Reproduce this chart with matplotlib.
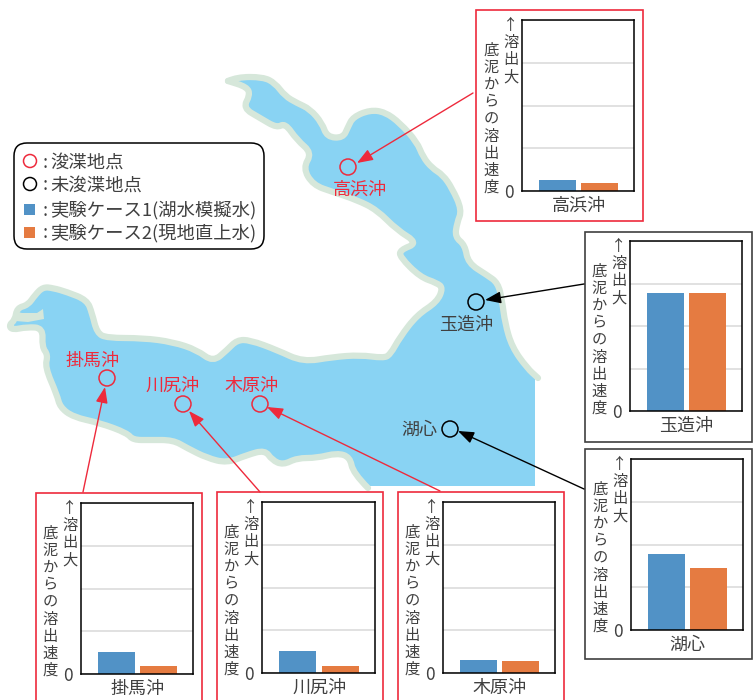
import matplotlib
matplotlib.use('Agg')
import matplotlib.pyplot as plt
from matplotlib.patches import Polygon, Rectangle, Circle, FancyBboxPatch, PathPatch
from matplotlib.path import Path

plt.rcParams['font.family'] = ['Noto Sans CJK JP', 'DejaVu Sans']

W, H = 753, 700

# sites and the two experiment cases (relative units, axis runs 0-4)
sites = ['高浜沖', '玉造沖', '湖心', '掛馬沖', '川尻沖', '木原沖']
case1 = [0.26, 2.77, 1.77, 0.51, 0.52, 0.31]
case2 = [0.19, 2.77, 1.45, 0.19, 0.17, 0.27]
dredged = [True, False, False, True, True, True]

# panel layout in pixels: box left, box top, box right, box bottom, axes left, axes top, axes right, axes bottom
panels = [
    (476, 10, 643, 221, 522, 20, 634, 191),
    (585, 232, 752, 442, 630, 241, 742, 411),
    (585, 449, 752, 659, 631, 459, 743, 630),
    (36, 493, 202, 706, 81, 503, 193, 674),
    (217, 492, 383, 706, 262, 502, 375, 673),
    (398, 492, 564, 706, 443, 502, 555, 673),
]

# site markers, labels, arrow start and tip
site_xy = [(348, 167), (476, 302), (450, 429), (107, 378), (183, 404), (260, 404)]
label_xy = [(360, 190), (466, 325), (419, 430), (93, 361), (173, 386), (252, 386)]
arrow_from = [(473, 93), (584, 284), (584, 489), (83, 492), (260, 492), (440, 491)]
arrow_tip = [(357, 163), (485, 300), (458, 431), (105, 387), (189, 411), (267, 407)]

# lake shore, pixels
shore_east = [(228, 81), (237, 77), (263, 77), (275, 83), (285, 96), (297, 103), (310, 109), (322, 123),
              (327, 137), (343, 138), (348, 127), (353, 117), (370, 110), (385, 112), (400, 123), (417, 142),
              (423, 157), (432, 168), (443, 175), (452, 188), (462, 210), (457, 223), (455, 237), (465, 245),
              (468, 263), (487, 275), (498, 283), (502, 300), (505, 323), (512, 347), (527, 368), (538, 378)]
cut_edge = [(535, 378), (535, 486), (368, 486)]
shore_west = [(368, 488), (353, 473), (350, 457), (337, 453), (317, 458), (297, 458), (283, 465), (272, 460),
              (265, 450), (247, 455), (227, 463), (207, 458), (187, 448), (173, 440), (150, 440), (133, 440),
              (127, 433), (100, 423), (73, 417), (60, 407), (57, 395), (45, 367), (48, 355), (42, 347),
              (43, 328), (27, 327), (12, 330), (9, 325), (15, 320), (17, 308), (28, 305), (35, 295),
              (43, 287), (53, 288), (67, 292), (87, 300), (92, 313), (97, 333), (107, 338), (143, 338),
              (173, 342), (197, 350), (213, 362), (227, 350), (237, 340), (250, 340), (277, 350), (303, 362),
              (333, 357), (360, 355), (383, 358), (390, 355), (400, 337), (417, 315), (437, 302), (443, 288),
              (437, 283), (420, 277), (400, 257), (400, 250), (418, 243), (397, 230), (377, 210), (357, 200),
              (333, 192), (313, 185), (303, 168), (312, 153), (297, 140), (285, 123), (277, 128), (260, 118),
              (243, 108), (250, 95), (247, 87), (228, 81)]
# land spit in the western inlet
spit = [(15, 321), (14, 311), (22, 313), (37, 313), (43, 309), (44, 319), (28, 322)]

legend_labels = ['浚渫地点', '未浚渫地点', '実験ケース1(湖水模擬水)', '実験ケース2(現地直上水)']
legend_y = [162.5, 185.5, 210.5, 233.5]
legend_mark_y = [161, 184, 209, 232]

RED = '#EE2A3C'
BLUE = '#5192C6'
ORANGE = '#E57B41'
GREY = '#404040'
LAKE = '#89D3F3'
SHORE = '#D6E7DA'


def rounded(points):
    # traced points become the control points of quadratic curves, so the shore has no corners
    verts = [points[0]]
    codes = [Path.MOVETO]
    for a, b in zip(points[1:-1], points[2:]):
        verts += [a, ((a[0] + b[0]) / 2, (a[1] + b[1]) / 2)]
        codes += [Path.CURVE3, Path.CURVE3]
    verts.append(points[-1])
    codes.append(Path.LINETO)
    return verts, codes


fig = plt.figure(figsize=(W / 100, H / 100), dpi=100)
ax = fig.add_axes([0, 0, 1, 1])
ax.set_xlim(0, W)
ax.set_ylim(H, 0)
ax.axis('off')

# lake
ve, ce = rounded(shore_east)
vw, cw = rounded(shore_west)
fill_verts = ve + cut_edge + vw[1:] + [vw[-1]]
fill_codes = ce + [Path.LINETO] * 3 + cw[1:] + [Path.CLOSEPOLY]
ax.add_patch(PathPatch(Path(fill_verts, fill_codes), fc=LAKE, ec='none', zorder=1))
for v, c in [(ve, ce), (vw, cw)]:
    ax.add_patch(PathPatch(Path(v, c), fc='none', ec=SHORE, lw=4.5, joinstyle='round', capstyle='round', zorder=2))
ax.add_patch(Polygon(spit, closed=True, fc=SHORE, ec='none', zorder=2))

# sites
for i, s in enumerate(sites):
    c = RED if dredged[i] else 'black'
    tc = RED if dredged[i] else GREY
    ax.add_patch(Circle(site_xy[i], 8, fc='none', ec=c, lw=1.1, zorder=4))
    ax.text(label_xy[i][0], label_xy[i][1], s, color=tc, fontsize=13, ha='center', va='center', zorder=4)
    ax.annotate('', xy=arrow_tip[i], xytext=arrow_from[i], zorder=5,
                arrowprops=dict(arrowstyle='-|>,head_length=0.8,head_width=0.3', color=c, lw=1,
                                shrinkA=0, shrinkB=0, mutation_scale=12))

# legend
ax.add_patch(FancyBboxPatch((26, 155), 226, 82, boxstyle='round,pad=12,rounding_size=13',
                            fc='white', ec='black', lw=1.1, zorder=3))
ax.add_patch(Circle((30, legend_mark_y[0]), 6.5, fc='none', ec=RED, lw=1.1, zorder=4))
ax.add_patch(Circle((30, legend_mark_y[1]), 6.5, fc='none', ec='black', lw=1.1, zorder=4))
ax.add_patch(Rectangle((24.5, legend_mark_y[2] - 5.5), 11, 11, fc=BLUE, ec='none', zorder=4))
ax.add_patch(Rectangle((24.5, legend_mark_y[3] - 5.5), 11, 11, fc=ORANGE, ec='none', zorder=4))
for lab, y in zip(legend_labels, legend_y):
    ax.text(43, y, ':', color=GREY, fontsize=13.2, va='center', zorder=4)
    ax.text(50, y, lab, color=GREY, fontsize=13.2, va='center', zorder=4)

# bar panels
for i, s in enumerate(sites):
    bl, bt, br, bb, al, at, ar, ab = panels[i]
    ax.add_patch(Rectangle((bl, bt), br - bl, bb - bt, fc='white', ec=RED if dredged[i] else GREY,
                           lw=1.2, zorder=3))
    ax.text(al - 31, at + 22, '\n'.join('底泥からの溶出速度'), color=GREY, fontsize=11,
            ha='center', va='top', linespacing=1.01, zorder=4)
    ax.text(al - 11, at - 3, '\n'.join('↑溶出大'), color=GREY, fontsize=11,
            ha='center', va='top', linespacing=1.01, zorder=4)
    sub = fig.add_axes([al / W, 1 - ab / H, (ar - al) / W, (ab - at) / H])
    sub.bar([0, 1], [case1[i], case2[i]], width=0.88, color=[BLUE, ORANGE], zorder=2)
    sub.set_xlim(-0.845, 1.82)
    sub.set_ylim(0, 4)
    sub.set_yticks([0, 1, 2, 3, 4])
    sub.set_yticklabels(['0', '', '', '', ''], color=GREY, fontsize=12.5)
    sub.set_xticks([0.5])
    sub.set_xticklabels([s], color=GREY, fontsize=13)
    sub.tick_params(length=0, pad=4)
    sub.tick_params(axis='y', pad=6)
    sub.grid(axis='y', color='#D9D9D9', lw=1.1, zorder=1)
    for sp in sub.spines.values():
        sp.set_linewidth(1.1)
        sp.set_color('black')
        sp.set_zorder(3)

fig.savefig('out.png', dpi=100)
